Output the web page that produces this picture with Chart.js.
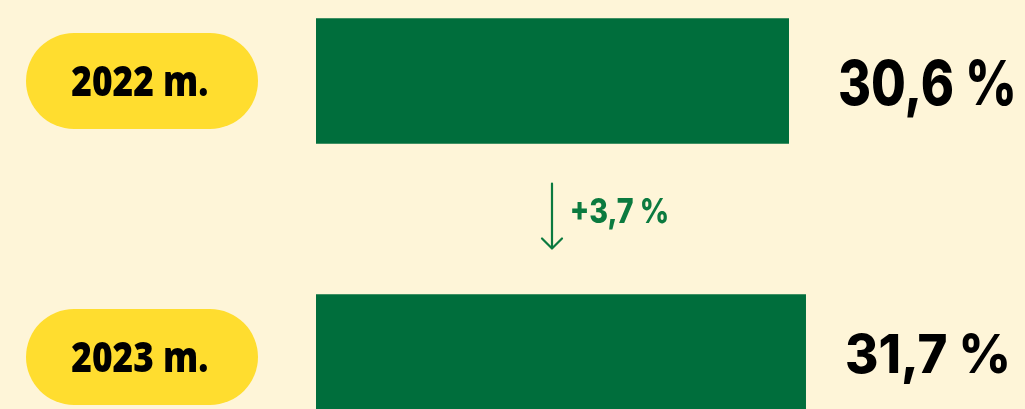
<!DOCTYPE html>
<html>
<head>
<meta charset="utf-8">
<script src="https://cdn.jsdelivr.net/npm/chart.js@4/dist/chart.umd.min.js"></script>
<style>
  html, body { margin:0; padding:0; background:#FEF5D8; overflow:hidden; width:1025px; height:409px; }
  #wrap { position:absolute; left:0; top:-57px; width:1025px; height:552px; }
</style>
</head>
<body>
<div id="wrap"><canvas id="c" width="1025" height="552"></canvas></div>
<script>
const categories = ['2022 m.', '2023 m.'];
const values = [30.6, 31.7];
const valueLabels = ['30,6 %', '31,7 %'];
const changeLabel = '+3,7 %';

const BG = '#FEF5D8';
const GREEN = '#006E3C';
const TEXT_GREEN = '#0B7A3F';
const YELLOW = '#FFDD2F';

// draw text so that its ink box fits (left,right) horizontally and (top,baseline) vertically
function drawFit(ctx, text, left, right, top, base, font, color) {
  ctx.save();
  ctx.font = font.replace('SIZE', '100px');
  ctx.textBaseline = 'alphabetic';
  ctx.textAlign = 'left';
  const m = ctx.measureText(text);
  const ink = m.actualBoundingBoxLeft + m.actualBoundingBoxRight;
  const digits = ctx.measureText(text.replace(/[^0-9]/g, '') || text);
  const asc = digits.actualBoundingBoxAscent;
  const sx = (right - left) / ink;
  const sy = (base - top) / asc;
  ctx.translate(left, base);
  ctx.scale(sx, sy);
  ctx.fillStyle = color;
  ctx.fillText(text, m.actualBoundingBoxLeft, 0);
  ctx.restore();
}

const PILL_FONT = '800 SIZE "Open Sans", sans-serif';
const VALUE_FONT = '800 SIZE Inter, sans-serif';

const overlay = {
  id: 'overlay',
  afterDatasetsDraw(chart) {
    const ctx = chart.ctx;
    const ys = chart.scales.y;
    const meta = chart.getDatasetMeta(0);
    categories.forEach((cat, i) => {
      const cy = ys.getPixelForValue(i);
      const pl = 26, pr = 258, ph = 96, r = ph / 2;
      ctx.save();
      ctx.fillStyle = YELLOW;
      ctx.beginPath();
      ctx.moveTo(pl + r, cy - r);
      ctx.lineTo(pr - r, cy - r);
      ctx.arc(pr - r, cy, r, -Math.PI / 2, Math.PI / 2);
      ctx.lineTo(pl + r, cy + r);
      ctx.arc(pl + r, cy, r, Math.PI / 2, Math.PI * 1.5);
      ctx.closePath();
      ctx.fill();
      ctx.restore();
      drawFit(ctx, cat, 72, 207, cy - 15, cy + 15, PILL_FONT, '#000');
    });
    const c0 = ys.getPixelForValue(0), c1 = ys.getPixelForValue(1);
    drawFit(ctx, valueLabels[0], 840, 1013, c0 - 22, c0 + 24, VALUE_FONT, '#000');
    drawFit(ctx, valueLabels[1], 847, 1007, c1 - 24, c1 + 16, VALUE_FONT, '#000');
    const b0 = meta.data[0], b1 = meta.data[1];
    const top = b0.y + b0.height / 2 + 40;
    const bot = b1.y - b1.height / 2 - 46;
    const ax = 552;
    ctx.save();
    ctx.strokeStyle = TEXT_GREEN;
    ctx.lineWidth = 2.2;
    ctx.lineCap = 'round';
    ctx.beginPath();
    ctx.moveTo(ax, top);
    ctx.lineTo(ax, bot);
    ctx.moveTo(ax - 10, bot - 10);
    ctx.lineTo(ax, bot);
    ctx.lineTo(ax + 10, bot - 10);
    ctx.stroke();
    ctx.restore();
    const mid = (top + bot) / 2;
    drawFit(ctx, changeLabel, 572, 667, mid - 18, mid + 7, VALUE_FONT, TEXT_GREEN);
  }
};

new Chart(document.getElementById('c'), {
  type: 'bar',
  data: {
    labels: categories,
    datasets: [{
      data: values,
      backgroundColor: GREEN,
      borderWidth: 0,
      barThickness: 125
    }]
  },
  options: {
    indexAxis: 'y',
    responsive: false,
    animation: false,
    layout: { padding: { left: 316, right: 0, top: 0, bottom: 0 } },
    scales: {
      x: { display: false, min: 0, max: 45.9 },
      y: { display: false, offset: true }
    },
    plugins: { legend: { display: false }, tooltip: { enabled: false } }
  },
  plugins: [overlay, {
    id: 'bg',
    beforeDraw(chart) {
      const ctx = chart.ctx;
      ctx.save();
      ctx.fillStyle = BG;
      ctx.fillRect(0, 0, chart.width, chart.height);
      ctx.restore();
    }
  }]
});
</script>
</body>
</html>
